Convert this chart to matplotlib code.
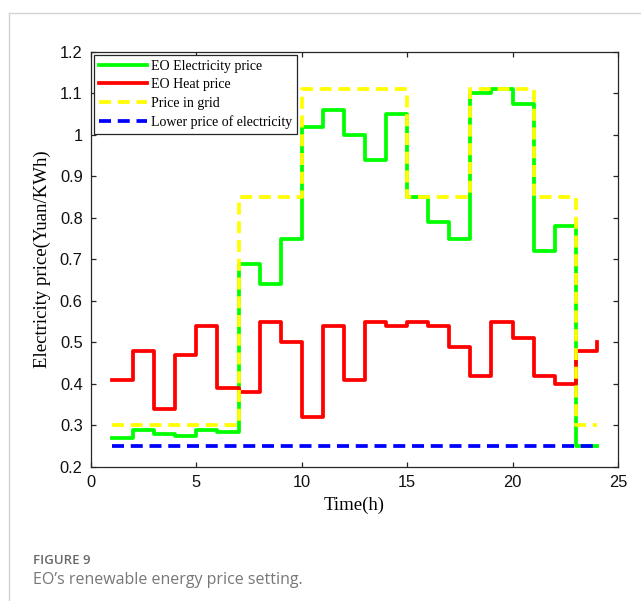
import numpy as np
import matplotlib
matplotlib.use('Agg')
import matplotlib.pyplot as plt
from matplotlib.lines import Line2D

hours = np.arange(1, 25)

# EO electricity price (Yuan/KWh)
elec_price = [0.27, 0.29, 0.28, 0.275, 0.29, 0.285, 0.69, 0.64, 0.75, 1.02, 1.06, 1.00,
              0.94, 1.05, 0.85, 0.79, 0.75, 1.10, 1.11, 1.075, 0.72, 0.78, 0.25, 0.25]
# EO heat price
heat_price = [0.41, 0.48, 0.34, 0.47, 0.54, 0.39, 0.38, 0.55, 0.50, 0.32, 0.54, 0.41,
              0.55, 0.54, 0.55, 0.54, 0.49, 0.42, 0.55, 0.51, 0.42, 0.40, 0.48, 0.50]
# price in grid
grid_price = [0.30, 0.30, 0.30, 0.30, 0.30, 0.30, 0.85, 0.85, 0.85, 1.11, 1.11, 1.11,
              1.11, 1.11, 0.85, 0.85, 0.85, 1.11, 1.11, 1.11, 0.85, 0.85, 0.30, 0.30]
# lower price of electricity
low_price = [0.25] * 24

labels = ['EO Electricity price', 'EO Heat price', 'Price in grid', 'Lower price of electricity']

serif = 'Liberation Serif'
sans = 'Liberation Sans'

fig = plt.figure(figsize=(6.41, 6.01), dpi=100)
ax = fig.add_axes([0.142, 0.223, 0.822, 0.6905])

lw = 2.7
ax.step(hours, elec_price, where='post', color='#00ff00', lw=lw, label=labels[0])
ax.step(hours, heat_price, where='post', color='#ff0000', lw=lw, label=labels[1])
ax.step(hours, grid_price, where='post', color='#ffff00', lw=lw, ls=(0, (3.2, 1.8)), label=labels[2])
ax.step(hours, low_price, where='post', color='#0000ff', lw=lw, ls=(0, (3.2, 1.8)), label=labels[3])

ax.set_xlim(0, 25)
ax.set_ylim(0.2, 1.2)
ax.set_xticks([0, 5, 10, 15, 20, 25])
ax.set_yticks(np.round(np.arange(0.2, 1.21, 0.1), 1))
ax.set_yticklabels(['0.2', '0.3', '0.4', '0.5', '0.6', '0.7', '0.8', '0.9', '1', '1.1', '1.2'])

ax.tick_params(direction='in', top=True, right=True, length=3.6, width=0.9,
               color='#262626', labelsize=11.8, labelcolor='#111111', pad=6)
for lab in ax.get_xticklabels() + ax.get_yticklabels():
    lab.set_fontfamily(sans)
for sp in ax.spines.values():
    sp.set_color('#262626')
    sp.set_linewidth(0.9)

ax.set_xlabel('Time(h)', fontfamily=serif, fontsize=13.5, labelpad=4.5)
ax.set_ylabel('Electricity price(Yuan/KWh)', fontfamily=serif, fontsize=13.5, labelpad=6)

leg = ax.legend(loc='upper left', prop={'family': serif, 'size': 10}, handlelength=3.45,
                handletextpad=0.33, labelspacing=0.4, borderaxespad=0.2, borderpad=0.35,
                fancybox=False, framealpha=1, edgecolor='#262626')
leg.get_frame().set_linewidth(0.9)

# page frame and caption
fig.add_artist(Line2D([9/641, 9/641], [0, 1 - 13/601], color='#d4d4d4', lw=1, transform=fig.transFigure))
fig.add_artist(Line2D([9/641, 1], [1 - 13/601, 1 - 13/601], color='#d4d4d4', lw=1, transform=fig.transFigure))
fig.text(33/641, 1 - 561/601, 'FIGURE 9', fontfamily='Open Sans', fontweight='semibold',
         fontsize=9.5, color='#6a6a6a', va='center')
fig.text(33/641, 1 - 580/601, 'EO\u2019s renewable energy price setting.', fontfamily='Open Sans',
         fontsize=11.5, color='#777777', va='center')

plt.savefig('out.png', dpi=100)
